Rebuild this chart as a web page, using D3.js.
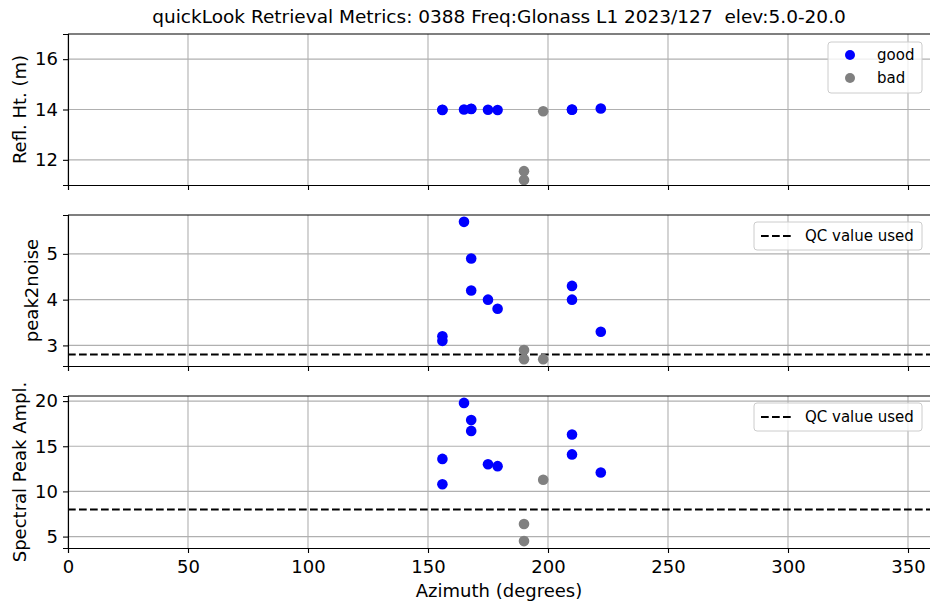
<!DOCTYPE html>
<html>
<head>
<meta charset="utf-8">
<script src="https://cdn.jsdelivr.net/npm/d3@7"></script>
<style>
    body { margin: 0; background: #fff; }
    svg { font-family: "DejaVu Sans", sans-serif; }
    .grid line { stroke: #b0b0b0; stroke-width: 1.1; }
    .axis path, .axis line { stroke: #000; stroke-width: 1.1; }
    .axis text { font-size: 18px; fill: #000; font-family: "DejaVu Sans", sans-serif; }
</style>
</head>
<body>
<svg id="chart" width="930" height="603"></svg>
<script>
// station / title
var titleText = "quickLook Retrieval Metrics: 0388 Freq:Glonass L1 2023/127  elev:5.0-20.0";

// good retrievals
var goodAzim = [156, 156, 165, 168, 168, 175, 179, 210, 210, 222];
var goodRH = [13.98, 13.99, 14.0, 14.03, 14.02, 13.99, 13.98, 13.99, 14.0, 14.04];
var goodPk2n = [3.2, 3.1, 5.7, 4.9, 4.2, 4.0, 3.8, 4.3, 4.0, 3.3];
var goodAmp = [13.6, 10.8, 19.8, 17.9, 16.7, 13.0, 12.8, 16.3, 14.1, 12.1];

// bad retrievals
var badAzim = [190, 190, 198];
var badRH = [11.55, 11.2, 13.93];
var badPk2n = [2.9, 2.7, 2.7];
var badAmp = [6.4, 4.5, 11.3];

// QC thresholds
var qcPk2n = 2.8;
var qcAmp = 8.0;

var xTicks = [0, 50, 100, 150, 200, 250, 300, 350];

var svg = d3.select("#chart"),
    left = 68,
    right = 932;

var x = d3.scaleLinear().domain([0, 360]).range([left, right]);

var panels = [
    {top: 34, bottom: 185, domain: [11, 17], ticks: [12, 14, 16], label: "Refl. Ht. (m)", labelX: 20,
        good: goodRH, bad: badRH, qc: null, legend: "pts"},
    {top: 215, bottom: 366, domain: [2.55, 5.85], ticks: [3, 4, 5], label: "peak2noise", labelX: 32,
        good: goodPk2n, bad: badPk2n, qc: qcPk2n, legend: "qc"},
    {top: 396, bottom: 548, domain: [3.735, 20.565], ticks: [5, 10, 15, 20], label: "Spectral Peak Ampl.", labelX: 20,
        good: goodAmp, bad: badAmp, qc: qcAmp, legend: "qc"}
];

svg.append("text")
    .attr("x", 499)
    .attr("y", 23)
    .attr("text-anchor", "middle")
    .attr("xml:space", "preserve")
    .style("white-space", "pre")
    .style("font-size", "18.5px")
    .text(titleText);

panels.forEach(function (p, i) {
    var y = d3.scaleLinear().domain(p.domain).range([p.bottom, p.top]);
    var g = svg.append("g");

    // grid
    var grid = g.append("g").attr("class", "grid");
    grid.selectAll(".gx").data(xTicks).enter().append("line")
        .attr("x1", function (d) { return x(d); })
        .attr("x2", function (d) { return x(d); })
        .attr("y1", p.top).attr("y2", p.bottom);
    grid.selectAll(".gy").data(p.ticks).enter().append("line")
        .attr("x1", left).attr("x2", right)
        .attr("y1", function (d) { return y(d); })
        .attr("y2", function (d) { return y(d); });

    // QC line
    if (p.qc !== null) {
        g.append("line")
            .attr("x1", left).attr("x2", right)
            .attr("y1", y(p.qc)).attr("y2", y(p.qc))
            .style("stroke", "#000")
            .style("stroke-width", 2)
            .style("stroke-dasharray", "7.7,3.3");
    }

    // points
    g.selectAll(".good").data(goodAzim).enter().append("circle")
        .attr("cx", function (d) { return x(d); })
        .attr("cy", function (d, j) { return y(p.good[j]); })
        .attr("r", 5.3)
        .style("fill", "#0000ff");
    g.selectAll(".bad").data(badAzim).enter().append("circle")
        .attr("cx", function (d) { return x(d); })
        .attr("cy", function (d, j) { return y(p.bad[j]); })
        .attr("r", 5.3)
        .style("fill", "#808080");

    // axes
    var xAxis = d3.axisBottom(x).tickValues(xTicks).tickSizeOuter(0).tickSize(5).tickPadding(7)
        .tickFormat(d3.format("d"));
    if (i < 2) xAxis.tickFormat("");
    g.append("g").attr("class", "axis")
        .attr("transform", "translate(0," + p.bottom + ")")
        .call(xAxis);
    g.append("g").attr("class", "axis")
        .attr("transform", "translate(" + left + ",0)")
        .call(d3.axisLeft(y).tickValues(p.ticks).tickSizeOuter(0).tickSize(5).tickPadding(5)
            .tickFormat(d3.format("d")));
    g.append("line")
        .attr("x1", left).attr("x2", right)
        .attr("y1", p.top).attr("y2", p.top)
        .style("stroke", "#000").style("stroke-width", 1.1);

    // y label
    g.append("text")
        .attr("transform", "translate(" + p.labelX + "," + ((p.top + p.bottom) / 2) + ") rotate(-90)")
        .attr("text-anchor", "middle")
        .attr("dy", "0.35em")
        .style("font-size", "18px")
        .text(p.label);

    // legends
    if (p.legend === "pts") {
        var lg = g.append("g").attr("transform", "translate(828," + (p.top + 8) + ")");
        lg.append("rect").attr("width", 94).attr("height", 51).attr("rx", 3)
            .style("fill", "#fff").style("fill-opacity", 0.8)
            .style("stroke", "#cccccc");
        [["good", "#0000ff"], ["bad", "#808080"]].forEach(function (it, k) {
            lg.append("circle").attr("cx", 22).attr("cy", 13 + k * 23).attr("r", 5).style("fill", it[1]);
            lg.append("text").attr("x", 49).attr("y", 13 + k * 23).attr("dy", "0.35em")
                .style("font-size", "15px").text(it[0]);
        });
    } else {
        var lq = g.append("g").attr("transform", "translate(754," + (p.top + 7) + ")");
        lq.append("rect").attr("width", 168).attr("height", 28).attr("rx", 3)
            .style("fill", "#fff").style("fill-opacity", 0.8)
            .style("stroke", "#cccccc");
        lq.append("line").attr("x1", 7).attr("x2", 37).attr("y1", 14).attr("y2", 14)
            .style("stroke", "#000").style("stroke-width", 2).style("stroke-dasharray", "7.7,3.3");
        lq.append("text").attr("x", 51).attr("y", 14).attr("dy", "0.35em")
            .style("font-size", "15px").text("QC value used");
    }
});

svg.append("text")
    .attr("x", 499)
    .attr("y", 597)
    .attr("text-anchor", "middle")
    .style("font-size", "18px")
    .text("Azimuth (degrees)");
</script>
</body>
</html>
